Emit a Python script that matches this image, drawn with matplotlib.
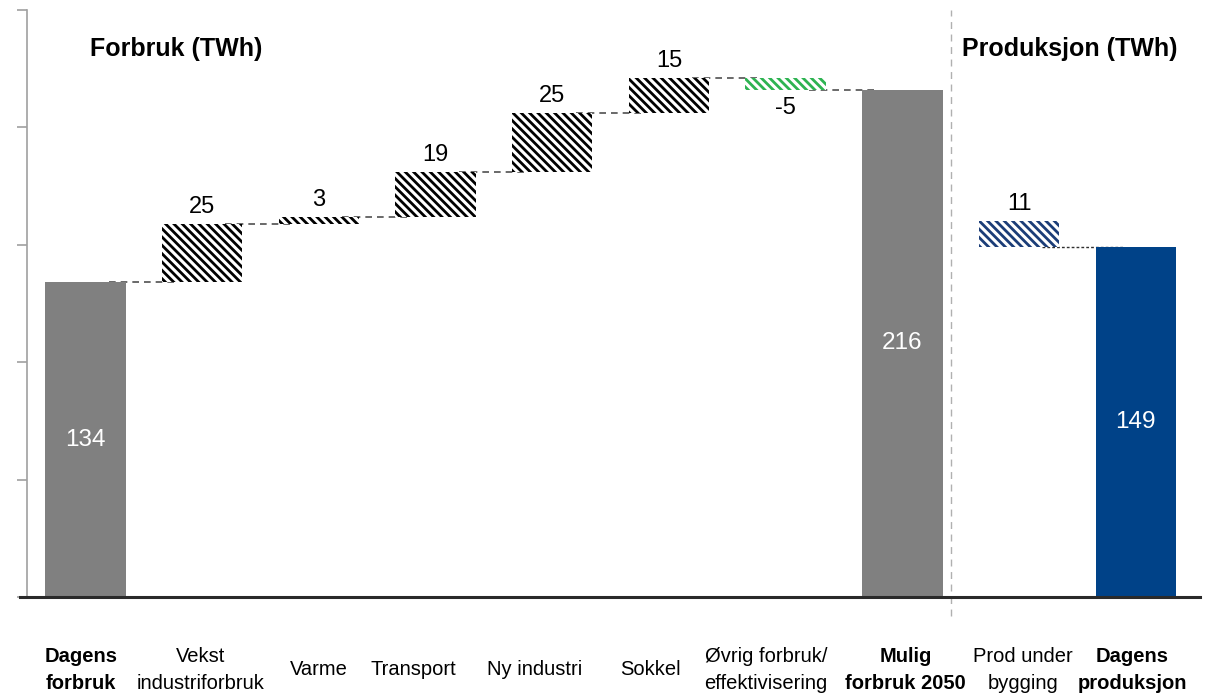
import matplotlib.pyplot as plt

# data (TWh)
categories = ["Dagens\nforbruk", "Vekst\nindustriforbruk", "Varme", "Transport",
              "Ny industri", "Sokkel", "Øvrig forbruk/\neffektivisering",
              "Mulig\nforbruk 2050", "Prod under\nbygging", "Dagens\nproduksjon"]
values = [134, 25, 3, 19, 25, 15, -5, 216, 11, 149]
kinds = ["total", "delta", "delta", "delta", "delta", "delta", "delta",
         "total", "delta", "total"]
bold_labels = [True, False, False, False, False, False, False, True, False, True]

# horizontal nudge of category labels (in bar slots), as in the original
label_shift = [-0.04, -0.01, 0.0, -0.19, -0.15, -0.16, -0.17, 0.03, 0.03, -0.03]

plt.rcParams['hatch.linewidth'] = 2.0
plt.rcParams['font.family'] = ['Liberation Sans', 'DejaVu Sans']

fig = plt.figure(figsize=(12.11, 6.96), dpi=100)
ax = fig.add_axes([27/1211, 99/696, (1200-27)/1211, 587/696])

width = 0.69
x = list(range(len(values)))

# forbruk part: cumulative waterfall
bottoms = []
heights = []
level = 0
for i in range(8):
    if kinds[i] == "total":
        bottoms.append(0)
        heights.append(values[i])
        level = values[i]
    else:
        if values[i] >= 0:
            bottoms.append(level)
        else:
            bottoms.append(level + values[i])
        heights.append(abs(values[i]))
        level += values[i]
# produksjon part: delta sits on top of final total
bottoms.append(values[9])
heights.append(values[8])
bottoms.append(0)
heights.append(values[9])

for i in x:
    if kinds[i] == "total":
        col = '#004288' if i == 9 else '#808080'
        ax.bar(i, heights[i], width, bottom=bottoms[i], color=col, zorder=3)
        ax.text(i, heights[i] / 2, str(values[i]), color='white', fontsize=17.5,
                ha='center', va='center', zorder=4)
    else:
        if i == 8:
            hc = '#1b3d78'
        elif values[i] < 0:
            hc = '#2db351'
        else:
            hc = 'black'
        ax.bar(i, heights[i], width, bottom=bottoms[i], color='white',
               edgecolor=hc, hatch='\\\\\\\\', linewidth=0, zorder=3)
        if values[i] >= 0:
            ax.text(i, bottoms[i] + heights[i] + 2.5, str(values[i]), fontsize=17,
                    ha='center', va='bottom')
        else:
            ax.text(i, bottoms[i] - 3, str(values[i]), fontsize=17,
                    ha='center', va='top')

# dashed connectors
level = 0
for i in range(7):
    level += values[i]
    ax.plot([i + 0.2, i + 0.8], [level, level], ls=(0, (4, 3)), color='#505050',
            lw=1.2, zorder=2)
ax.plot([8.2, 8.9], [values[9], values[9]], ls=(0, (2, 1.5)), color='#303030',
        lw=1.0, zorder=2)

# separator between forbruk and produksjon
ax.plot([7.42, 7.42], [-8, 250], ls=(0, (5, 4)), color='#b0b0b0', lw=1.0,
        clip_on=False)

ax.text(0.78, 233.5, "Forbruk (TWh)", fontsize=18, fontweight='bold',
        ha='center', va='center')
ax.text(8.43, 233.5, "Produksjon (TWh)", fontsize=18, fontweight='bold',
        ha='center', va='center')

# category labels below the axis
for i in x:
    ax.text(i + label_shift[i], -31, categories[i], fontsize=14.5,
            fontweight='bold' if bold_labels[i] else 'normal',
            ha='center', va='center', multialignment='center',
            linespacing=1.5, clip_on=False)

ax.set_xlim(-0.5, 9.55)
ax.set_ylim(0, 250)
ax.set_yticks([0, 50, 100, 150, 200, 250])
ax.set_yticklabels([])
ax.set_xticks([])
ax.tick_params(axis='y', length=7, color='#a0a0a0', width=1.2)
for s in ['top', 'right', 'bottom']:
    ax.spines[s].set_visible(False)
ax.spines['left'].set_color('#a0a0a0')
ax.spines['left'].set_linewidth(1.2)
ax.plot([-0.56, 9.55], [0, 0], color='#2a2a2a', lw=2.2, clip_on=False, zorder=5)

fig.savefig('out.png', dpi=100)
